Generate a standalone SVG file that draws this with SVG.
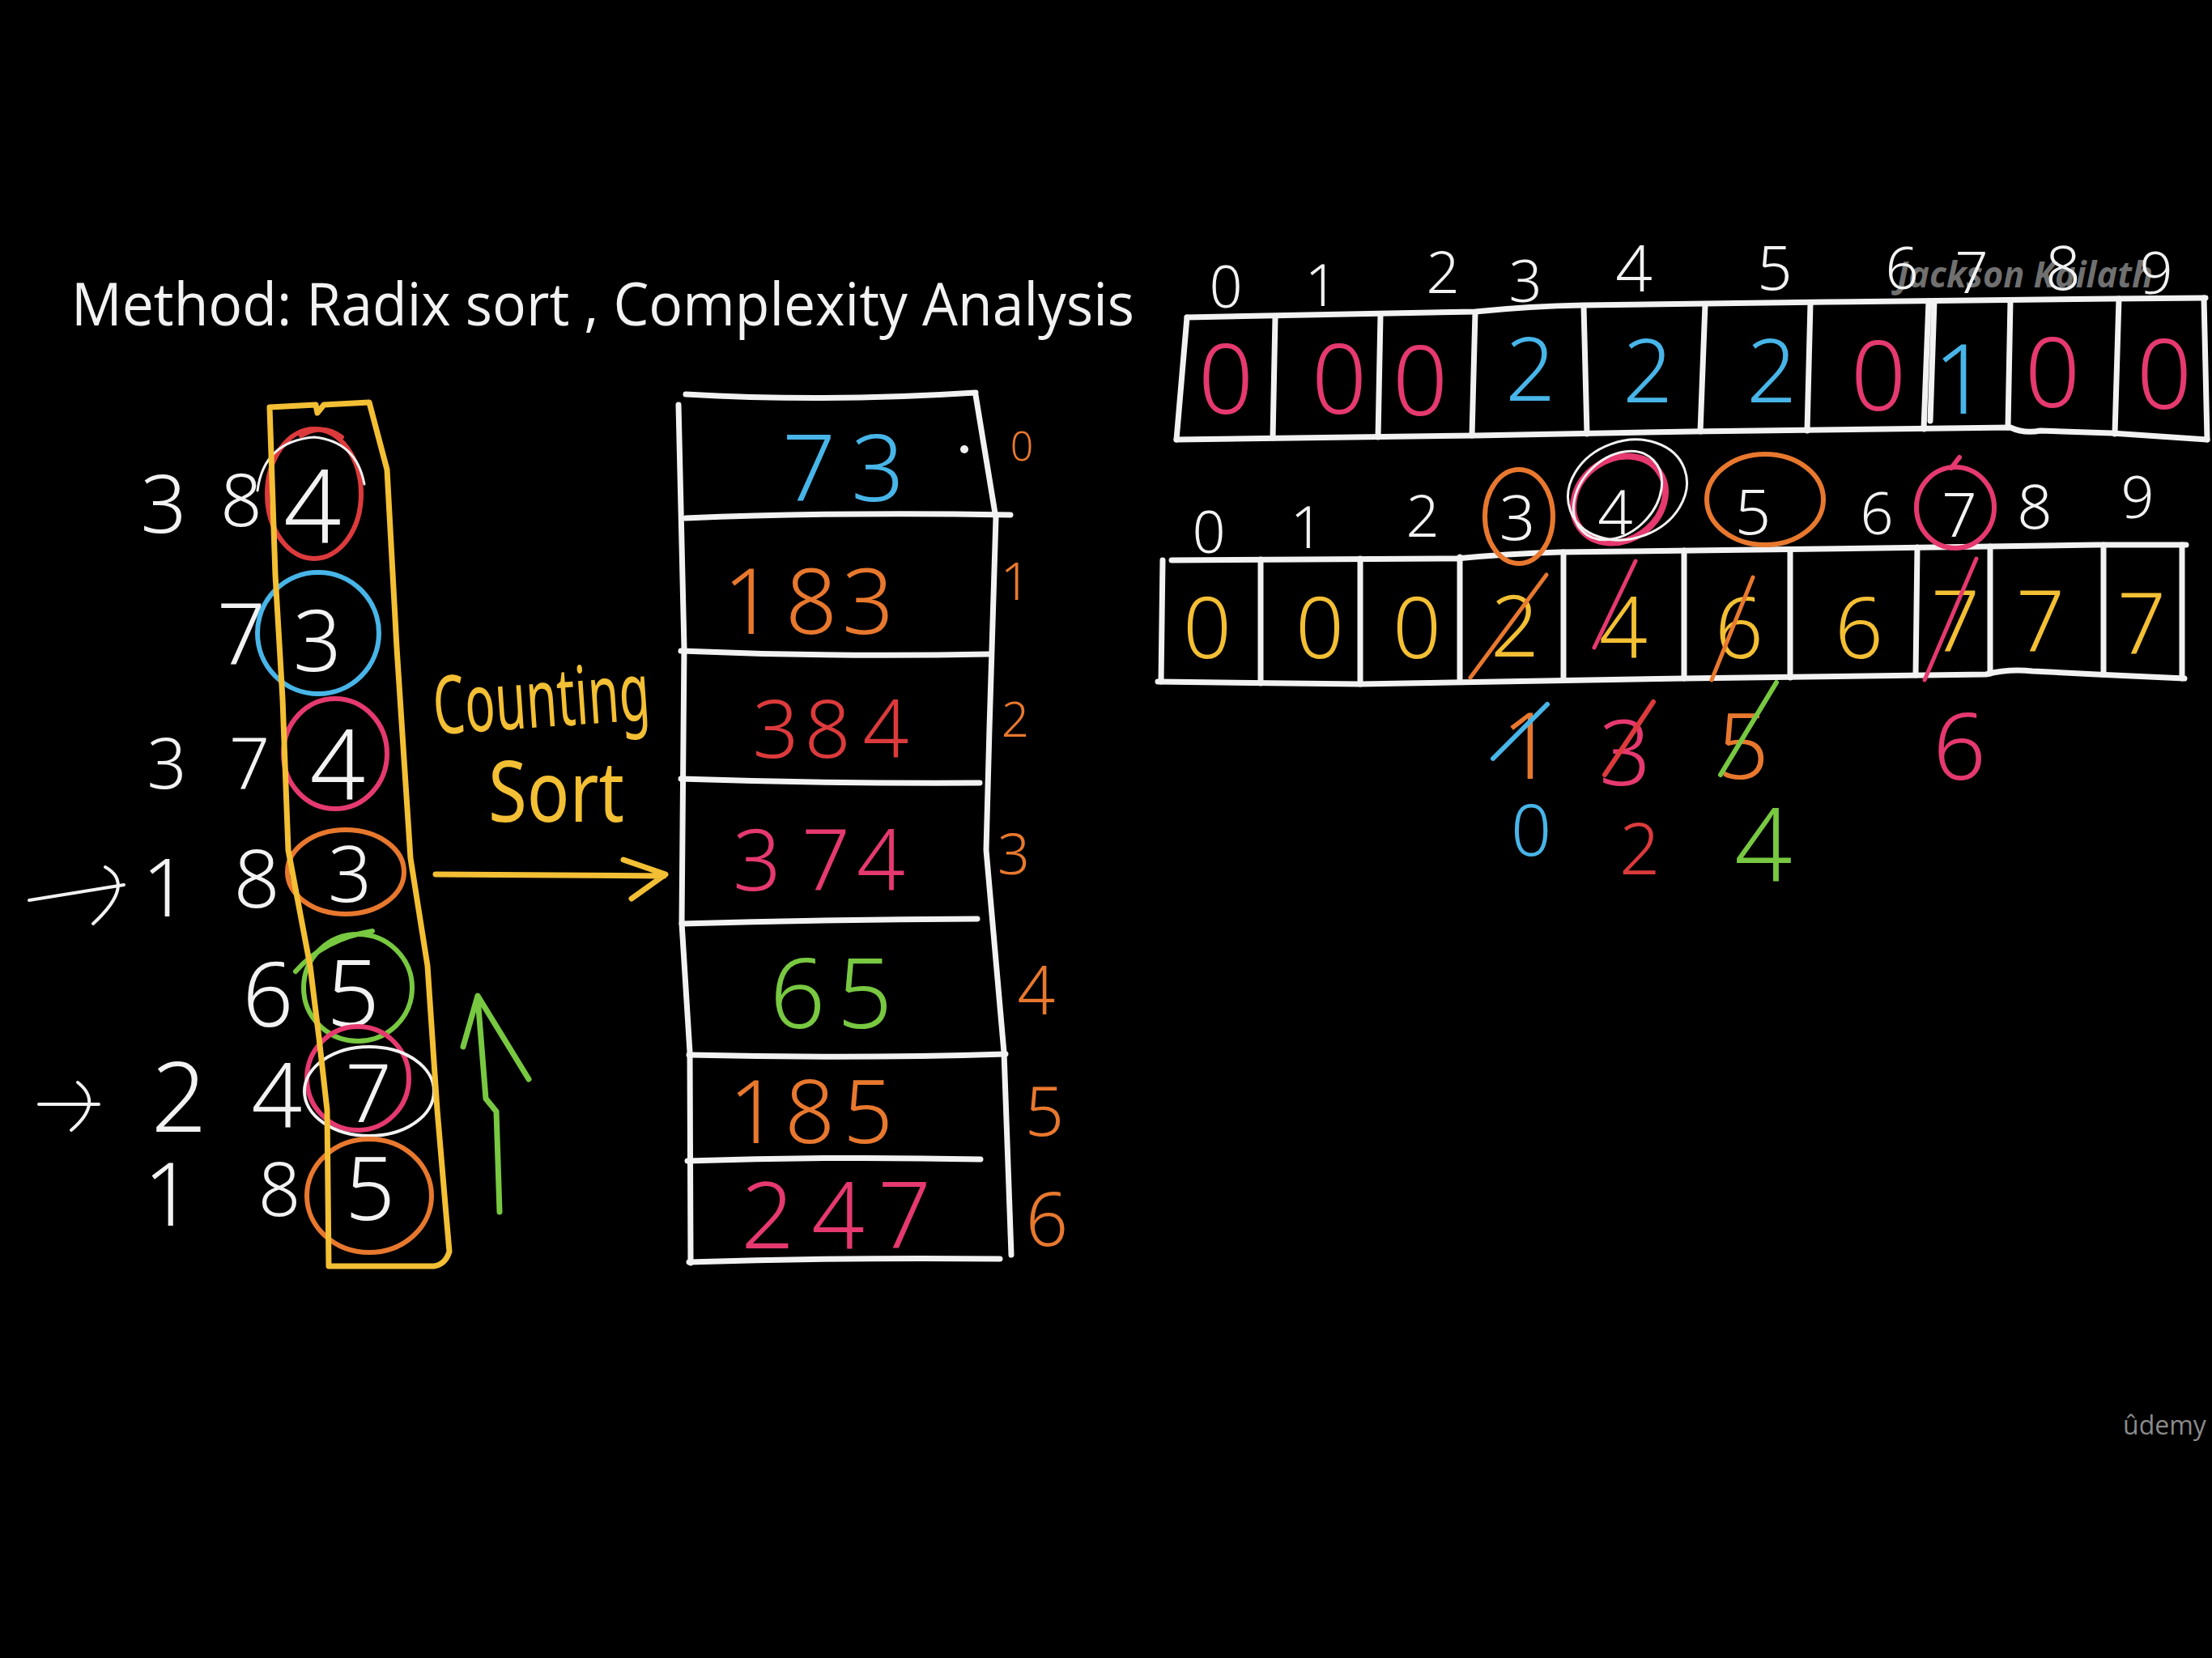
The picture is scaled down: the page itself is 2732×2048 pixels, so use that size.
<svg xmlns="http://www.w3.org/2000/svg" width="2732" height="2048" viewBox="0 0 2732 2048">
<style>
.hw{font-family:'Noto Sans','DejaVu Sans',sans-serif;text-anchor:middle;font-weight:300}
.s{fill:none;stroke-linecap:round;stroke-linejoin:round}
.wl{stroke:#f2f2f2;stroke-width:7}
.w{fill:#f2f2f2}.y{fill:#f3bf34}.o{fill:#e8782e}.r{fill:#dc3a3c}.m{fill:#e5396f}.b{fill:#48b5e8}.g{fill:#78c841}
.so{stroke:#e8782e}.sr{stroke:#dc3a3c}.sm{stroke:#e5396f}.sb{stroke:#48b5e8}.sg{stroke:#78c841}.sy{stroke:#f3bf34}.sw{stroke:#f2f2f2}
</style>
<rect width="2732" height="2048" fill="#000"/>

<g id="title">
<text x="88" y="402" font-family="'Open Sans',sans-serif" font-size="74" fill="#f2f2f2" textLength="1313" lengthAdjust="spacingAndGlyphs">Method: Radix sort , Complexity Analysis</text>
</g>

<g id="input-column">
<g class="hw w">
<text x="202" y="658" font-size="100">3</text><text x="298" y="650" font-size="90">8</text><text x="386" y="670" font-size="125">4</text>
<text x="298" y="821" font-size="105">7</text><text x="392" y="829" font-size="105">3</text>
<text x="206" y="974" font-size="86">3</text><text x="308" y="975" font-size="88">7</text><text x="417" y="987" font-size="120">4</text>
<text x="204" y="1132" font-size="100">1</text><text x="317" y="1121" font-size="100">8</text><text x="432" y="1114" font-size="95">3</text>
<text x="331" y="1268" font-size="110">6</text><text x="436" y="1268" font-size="115">5</text>
<text x="221" y="1398" font-size="120">2</text><text x="342" y="1393" font-size="110">4</text><text x="455" y="1386" font-size="100">7</text>
<text x="208" y="1514" font-size="108">1</text><text x="345" y="1502" font-size="92">8</text><text x="457" y="1507" font-size="108">5</text>
</g>
<g class="s" stroke-width="6">
<ellipse cx="388" cy="610" rx="58" ry="80" class="sr"/>
<path d="M318,606 Q326,545 388,540 Q440,545 450,598" class="sw" stroke-width="3"/>
<path d="M372,538 Q398,522 422,540" class="sr"/>
<ellipse cx="393" cy="782" rx="75" ry="75" class="sb"/>
<ellipse cx="414" cy="931" rx="64" ry="68" class="sm"/>
<ellipse cx="427" cy="1077" rx="72" ry="52" class="so"/>
<ellipse cx="442" cy="1220" rx="67" ry="66" class="sg"/>
<path d="M365,1200 Q400,1160 460,1150" class="sg"/>
<ellipse cx="442" cy="1332" rx="63" ry="64" class="sm"/>
<ellipse cx="456" cy="1348" rx="80" ry="55" class="sw" stroke-width="4"/>
<ellipse cx="456" cy="1477" rx="77" ry="70" class="so"/>
</g>
<path id="digit-box" class="s sy" stroke-width="7" d="M333,503 L390,500 L392,510 L400,500 L456,497 L478,580 L490,800 L507,1060 L528,1193 L540,1371 L551,1500 L555,1546 Q550,1562 536,1564 L406,1564 L404,1371 L394,1282 L383,1193 L356,1050 L349,863 L340,710 Z"/>
</g>

<g id="counting-sort-label" class="y" font-family="'Noto Sans',sans-serif">
<text x="535" y="898" font-size="100" textLength="268" lengthAdjust="spacingAndGlyphs" transform="rotate(-4 670 870)">Counting</text>
<text x="603" y="1015" font-size="105" textLength="168" lengthAdjust="spacingAndGlyphs">Sort</text>
</g>

<g id="output-table">
<g class="s wl">
<path d="M847,487 Q1020,497 1205,485"/>
<path d="M838,500 L845,800 L842,1140 L852,1300 L853,1560"/>
<path d="M1205,488 L1230,640 L1222,900 L1218,1050 L1240,1300 L1249,1550"/>
<path d="M847,640 Q1040,632 1248,636"/>
<path d="M841,804 Q1030,812 1221,808"/>
<path d="M841,962 Q1020,968 1210,967"/>
<path d="M842,1141 Q1020,1136 1207,1135"/>
<path d="M851,1303 Q1050,1308 1242,1302"/>
<path d="M849,1434 Q1030,1428 1211,1432"/>
<path d="M851,1559 Q1040,1553 1235,1555"/>
</g>
<circle cx="1191" cy="555" r="5" fill="#f2f2f2"/>
<g class="hw">
<text class="b" x="999 1084" y="619" font-size="115">73</text>
<text class="o" x="925 1002 1072" y="783" font-size="112">183</text>
<text class="r" x="958 1022 1094" y="936" font-size="100">384</text>
<text class="m" x="935 1020 1088" y="1100" font-size="105">374</text>
<text class="g" x="985 1068" y="1270" font-size="120">65</text>
<text class="o" x="931 1000 1072" y="1412" font-size="108">185</text>
<text class="m" x="948 1035 1117" y="1542" font-size="115">247</text>
</g>
<g class="hw o">
<text x="1262" y="569" font-size="50">0</text>
<text x="1254" y="741" font-size="65">1</text>
<text x="1254" y="910" font-size="60">2</text>
<text x="1252" y="1080" font-size="70">3</text>
<text x="1280" y="1253" font-size="82">4</text>
<text x="1290" y="1403" font-size="85">5</text>
<text x="1293" y="1539" font-size="92">6</text>
</g>
</g>

<g id="count-array">
<g class="s wl" stroke-width="6">
<path d="M1466,392 L1822,385 Q1890,378 1956,377 L2257,373 L2608,369 L2724,368"/>
<path d="M1453,543 L1822,538 L2090,533 L2483,528 Q2500,536 2520,532 L2608,535 L2726,543"/>
<path d="M1466,392 L1453,543 M1575,392 L1572,541 M1705,389 L1702,540 M1822,386 L1818,538 M1956,378 L1960,536 M2106,376 L2100,533 M2236,374 L2232,532 M2382,372 L2376,530 M2389,372 L2384,520 M2483,371 L2480,528 M2617,369 L2612,536 M2722,368 L2726,543"/>
</g>
<text x="2343" y="355" font-family="'Open Sans',sans-serif" font-style="italic" font-weight="bold" font-size="44" fill="#bdbdbd" fill-opacity="0.6" textLength="316" lengthAdjust="spacingAndGlyphs">Jackson Kailath</text>
<g class="hw w" font-size="72">
<text x="1514" y="380">0</text><text x="1632" y="378">1</text><text x="1782" y="362">2</text><text x="1884" y="373">3</text><text x="2018" y="360" font-size="80">4</text><text x="2192" y="358" font-size="76">5</text><text x="2349" y="357">6</text><text x="2435" y="362">7</text><text x="2548" y="358" font-size="76">8</text><text x="2663" y="363">9</text>
</g>
<g class="hw" font-size="120">
<text class="m" x="1514" y="511">0</text><text class="m" x="1654" y="511">0</text><text class="m" x="1754" y="513">0</text>
<text class="b" x="1890" y="495" font-size="108">2</text><text class="b" x="2035" y="497" font-size="108">2</text><text class="b" x="2188" y="497" font-size="108">2</text>
<text class="m" x="2320" y="507">0</text><text class="b" x="2422" y="511">1</text><text class="m" x="2535" y="503">0</text><text class="m" x="2673" y="505">0</text>
</g>
</g>

<g id="prefix-array">
<g class="s wl" stroke-width="6">
<path d="M1447,692 L1799,690 Q1860,684 1927,682 L2249,678 L2589,673 L2700,673"/>
<path d="M1430,842 L1680,845 L2080,838 L2453,833 Q2480,826 2510,829 L2589,833 L2698,838"/>
<path d="M1436,692 L1434,842 M1557,691 L1557,844 M1680,690 L1680,845 M1803,688 L1803,842 M1931,682 L1931,840 M2080,680 L2080,838 M2211,679 L2211,837 M2368,676 L2366,834 M2458,675 L2458,832 M2598,673 L2598,833 M2695,673 L2695,838"/>
</g>
<g class="hw w" font-size="72">
<text x="1493" y="683">0</text><text x="1614" y="677">1</text><text x="1757" y="663">2</text><text x="1874" y="667" font-size="78">3</text><text x="1995" y="660" font-size="76">4</text><text x="2165" y="660" font-size="78">5</text><text x="2318" y="660">6</text><text x="2420" y="663" font-size="76">7</text><text x="2513" y="653" font-size="76">8</text><text x="2640" y="640">9</text>
</g>
<g class="s" stroke-width="6">
<ellipse cx="1876" cy="638" rx="42" ry="58" class="so"/>
<ellipse cx="2000" cy="617" rx="60" ry="50" transform="rotate(-35 2000 617)" class="sm" stroke-width="8"/>
<ellipse cx="2010" cy="605" rx="75" ry="60" transform="rotate(-20 2010 605)" class="sw" stroke-width="3"/>
<ellipse cx="1998" cy="612" rx="62" ry="46" transform="rotate(-45 1998 612)" class="sw" stroke-width="3"/>
<ellipse cx="2180" cy="617" rx="72" ry="56" class="so"/>
<ellipse cx="2415" cy="627" rx="48" ry="50" class="sm"/>
<path d="M2410,578 L2420,565" class="sm"/>
</g>
<g class="hw y" font-size="105">
<text x="1491" y="813">0</text><text x="1630" y="813">0</text><text x="1750" y="813">0</text><text x="1871" y="811">2</text><text x="2005" y="813">4</text><text x="2148" y="813">6</text><text x="2296" y="813">6</text><text x="2415" y="805">7</text><text x="2520" y="805">7</text><text x="2645" y="808">7</text>
</g>
<g class="s" stroke-width="5">
<path d="M1816,837 L1910,710" class="so"/>
<path d="M1969,800 L2020,693" class="sm"/>
<path d="M2114,840 L2165,713" class="so"/>
<path d="M2377,840 L2441,690" class="sm"/>
</g>
</g>

<g id="position-updates">
<g class="hw">
<text class="o" x="1887" y="962" font-size="115">1</text>
<text class="m" x="2007" y="970" font-size="112">3</text>
<text class="o" x="2153" y="962" font-size="112">5</text>
<text class="m" x="2420" y="963" font-size="115">6</text>
<text class="b" x="1891" y="1057" font-size="88">0</text>
<text class="r" x="2025" y="1080" font-size="88">2</text>
<text class="g" x="2178" y="1088" font-size="125">4</text>
</g>
<g class="s" stroke-width="6">
<path d="M1844,937 L1911,870" class="sb"/>
<path d="M1982,957 L2042,867" class="sr"/>
<path d="M2125,957 L2194,843" class="sg"/>
</g>
</g>

<g id="connectors" class="s" stroke-width="6">
<path d="M36,1112 L153,1093 M130,1071 Q168,1092 115,1141" class="sw" stroke-width="4"/>
<path d="M48,1364 L122,1364 M96,1337 Q128,1362 88,1396" class="sw" stroke-width="4"/>
<path d="M538,1080 L820,1082 M770,1062 L822,1080 L780,1110" class="sy" stroke-width="7"/>
<path d="M617,1497 L613,1373 L600,1357 L590,1232 M572,1293 L590,1230 L653,1333" class="sg" stroke-width="7"/>
</g>

<text id="logo" x="2622" y="1772" font-family="'Open Sans',sans-serif" font-size="32" fill="#8a8a8a">ûdemy</text>
</svg>
